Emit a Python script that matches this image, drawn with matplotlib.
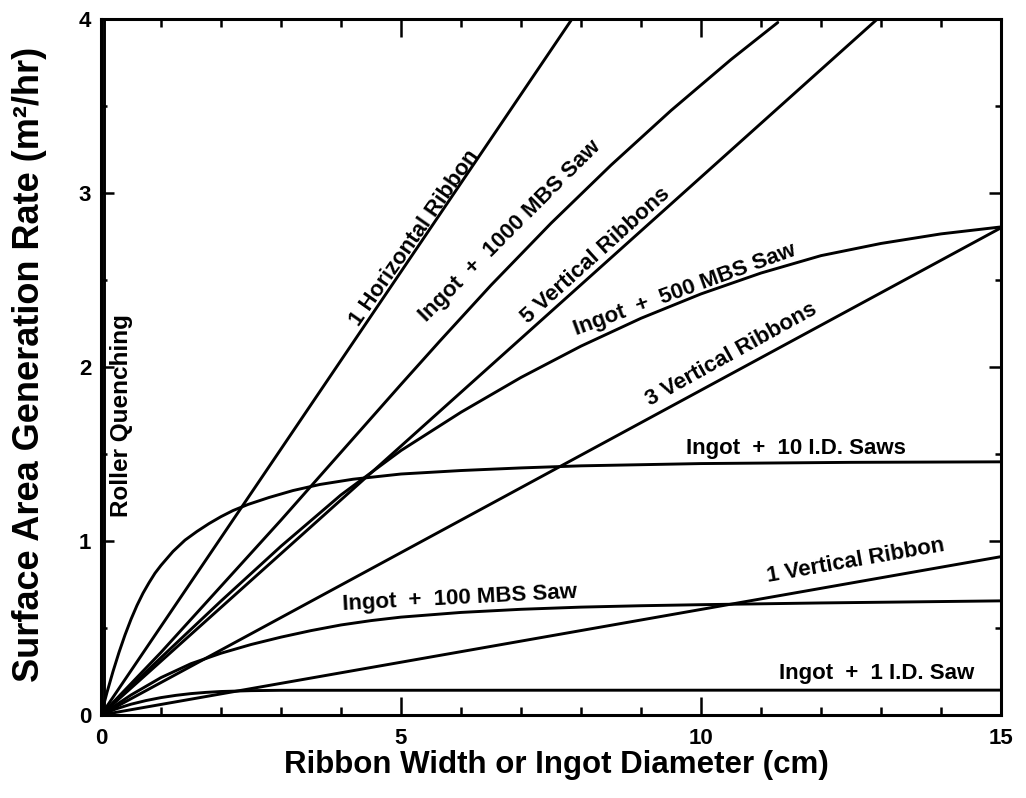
import numpy as np
import matplotlib
matplotlib.use("Agg")
from matplotlib import pyplot as plt
from matplotlib.ticker import MultipleLocator

plt.rcParams['font.family'] = ['Liberation Sans', 'DejaVu Sans']
plt.rcParams['font.weight'] = 'bold'

# curves (x in cm, y in m^2/hr)
horiz1_x = [0, 7.85]
horiz1_y = [0, 4.0]

mbs1000_x = [0, 1, 2, 3, 4, 5, 5.65, 6.5, 7.5, 8.5, 9.5, 10.5, 11.28]
mbs1000_y = [0, 0.36, 0.74, 1.12, 1.51, 1.90, 2.15, 2.47, 2.826, 3.16, 3.474,
             3.767, 3.98]

vert5_x = [0, 12.94]
vert5_y = [0, 4.0]

mbs500_x = [0, 1, 2, 3, 4, 5, 6, 7, 8, 9, 10, 11, 12, 13, 14, 15]
mbs500_y = [0, 0.33, 0.655, 0.97, 1.265, 1.52, 1.74, 1.94, 2.12, 2.28, 2.42,
            2.54, 2.64, 2.71, 2.765, 2.805]

vert3_x = [0, 15.0]
vert3_y = [0, 2.80]

id10_x = [0, 0.1, 0.2, 0.3, 0.4, 0.5, 0.6, 0.7, 0.8, 0.9, 1.0, 1.2, 1.4, 1.6,
          1.8, 2.0, 2.2, 2.45, 2.8, 3.2, 3.65, 4.2, 5, 6, 7, 8, 10, 12.5, 15]
id10_y = [0, 0.13, 0.25, 0.36, 0.46, 0.55, 0.63, 0.70, 0.76, 0.815, 0.86, 0.94,
          1.005, 1.055, 1.10, 1.14, 1.175, 1.21, 1.25, 1.29, 1.325, 1.355,
          1.385, 1.405, 1.42, 1.432, 1.445, 1.452, 1.455]

vert1_x = [0, 15.0]
vert1_y = [0, 0.91]

mbs100_x = [0, 0.5, 1.0, 1.5, 2.0, 2.5, 3.0, 3.5, 4.0, 4.5, 5, 6, 7, 8, 9, 10,
            12, 15]
mbs100_y = [0, 0.115, 0.215, 0.295, 0.355, 0.405, 0.4475, 0.485, 0.5175,
            0.5425, 0.5625, 0.5895, 0.6075, 0.62, 0.628, 0.634, 0.644, 0.656]

id1_x = [0, 0.25, 0.5, 0.75, 1.0, 1.25, 1.5, 1.75, 2.0, 2.5, 3.0, 15.0]
id1_y = [0, 0.035, 0.062, 0.083, 0.10, 0.113, 0.123, 0.13, 0.135, 0.14, 0.142,
         0.143]

roller_x = [0.05, 0.05]
roller_y = [0, 4.0]

# label text, position (data), rotation (deg), size
labels = [
    ("1 Horizontal Ribbon", 5.23, 2.74, 55, 16),
    ("Ingot  +  1000 MBS Saw", 6.82, 2.78, 45, 16),
    ("5 Vertical Ribbons", 8.25, 2.64, 42, 16),
    ("Ingot  +  500 MBS Saw", 9.73, 2.44, 20, 16),
    ("3 Vertical Ribbons", 10.5, 2.07, 29, 16),
    ("Ingot  +  10 I.D. Saws", 11.58, 1.53, 0, 16),
    ("1 Vertical Ribbon", 12.58, 0.885, 10, 16),
    ("Ingot  +  100 MBS Saw", 5.98, 0.672, 3, 16),
    ("Ingot  +  1 I.D. Saw", 12.92, 0.236, 0, 16),
    ("Roller Quenching", 0.34, 1.72, 90, 17.5),
]

fig = plt.figure(figsize=(10.26, 7.98), dpi=100)
ax = fig.add_axes([101/1026, 83/798, 900/1026, 696/798])

lw = 2.1
for xs, ys in [(horiz1_x, horiz1_y), (mbs1000_x, mbs1000_y), (vert5_x, vert5_y),
               (mbs500_x, mbs500_y), (vert3_x, vert3_y), (id10_x, id10_y),
               (vert1_x, vert1_y), (mbs100_x, mbs100_y), (id1_x, id1_y),
               (roller_x, roller_y)]:
    ax.plot(xs, ys, color='black', lw=lw, solid_joinstyle='round',
            solid_capstyle='round')

for txt, x, y, rot, fs in labels:
    ax.text(x, y, txt, rotation=rot, rotation_mode='anchor', ha='center',
            va='center', fontsize=fs, fontweight='bold')

ax.set_xlim(0, 15)
ax.set_ylim(0, 4)
ax.set_xticks([0, 5, 10, 15])
ax.set_yticks([0, 1, 2, 3, 4])
ax.xaxis.set_minor_locator(MultipleLocator(1))
ax.yaxis.set_minor_locator(MultipleLocator(0.5))
ax.tick_params(which='both', direction='in', top=True, right=True, width=1.8,
               labelsize=16)
ax.tick_params(axis='x', which='major', length=13, pad=9)
ax.tick_params(axis='x', which='minor', length=6)
ax.tick_params(axis='y', which='major', length=9, pad=7)
ax.tick_params(axis='y', which='minor', length=4.5)
for lab in ax.get_xticklabels() + ax.get_yticklabels():
    lab.set_fontweight('bold')
for sp in ax.spines.values():
    sp.set_linewidth(2.2)

ax.set_xlabel("Ribbon Width or Ingot Diameter (cm)", fontsize=22.5,
              fontweight='bold')
ax.set_ylabel("Surface Area Generation Rate (m²/hr)", fontsize=26,
              fontweight='bold')
ax.xaxis.label.set_va('center')
ax.yaxis.label.set_va('center')
ax.xaxis.set_label_coords(0.506, -0.072)
ax.yaxis.set_label_coords(-0.079, 0.503)

fig.savefig("out.png", dpi=100)
